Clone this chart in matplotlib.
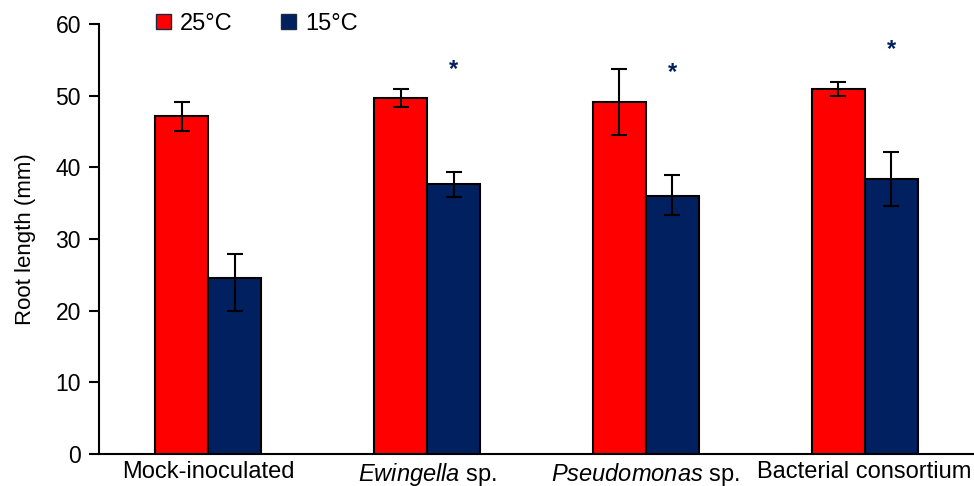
import matplotlib
matplotlib.use('Agg')
import matplotlib.pyplot as plt
import numpy as np

plt.rcParams['font.family'] = ['Liberation Sans', 'DejaVu Sans']
plt.rcParams['mathtext.fontset'] = 'custom'
plt.rcParams['mathtext.rm'] = 'Liberation Sans'
plt.rcParams['mathtext.it'] = 'Liberation Sans:italic'

categories = ['Mock-inoculated', r'$\it{Ewingella}$ sp.', r'$\it{Pseudomonas}$ sp.', 'Bacterial consortium']
warm = [47.2, 49.7, 49.1, 50.9]
warm_lo = [2.1, 1.3, 4.6, 0.9]
warm_hi = [1.9, 1.2, 4.6, 1.0]
cold = [24.5, 37.7, 36.0, 38.4]
cold_lo = [4.5, 1.8, 2.7, 3.8]
cold_hi = [3.4, 1.6, 2.9, 3.7]
star_y = [None, 53.6, 53.2, 56.4]

RED = '#FF0000'
NAVY = '#002060'

fig = plt.figure(figsize=(9.74, 4.86), dpi=100)
ax = fig.add_axes([99 / 974, 32 / 486, 875 / 974, 430 / 486])

x = np.arange(len(categories))
w = 0.242
ax.bar(x - w / 2, warm, w, color=RED, edgecolor='black', linewidth=1.5, label='25°C', zorder=2)
ax.bar(x + w / 2, cold, w, color=NAVY, edgecolor='black', linewidth=1.5, label='15°C', zorder=2)
ax.errorbar(x - w / 2, warm, yerr=[warm_lo, warm_hi], fmt='none', ecolor='black',
            elinewidth=1.5, capsize=5.8, capthick=1.5, zorder=3)
ax.errorbar(x + w / 2, cold, yerr=[cold_lo, cold_hi], fmt='none', ecolor='black',
            elinewidth=1.5, capsize=5.8, capthick=1.5, zorder=3)

# significance marks above the 15°C bars
for xi, sy in zip(x, star_y):
    if sy is not None:
        ax.text(xi + w / 2, sy, '*', color=NAVY, fontsize=17, fontweight='bold',
                ha='center', va='center')

ax.set_xlim(-0.5, len(categories) - 0.5)
ax.set_ylim(0, 60)
ax.set_yticks(np.arange(0, 61, 10))
ax.set_xticks(x)
ax.set_xticklabels(categories, fontsize=17)
ax.tick_params(axis='y', labelsize=16.5, length=7, width=1.5, direction='out', pad=6)
ax.tick_params(axis='x', length=0, pad=5)
ax.set_ylabel('Root length (mm)', fontsize=16, labelpad=14)

for s in ['top', 'right']:
    ax.spines[s].set_visible(False)
for s in ['left', 'bottom']:
    ax.spines[s].set_linewidth(1.5)

leg = ax.legend(loc='center left', bbox_to_anchor=(0.065, 1.0), ncol=2, frameon=False,
                fontsize=17, handlelength=0.63, handleheight=0.63, handletextpad=0.38,
                columnspacing=2.07, borderaxespad=0, borderpad=0)
for h in leg.legend_handles:
    h.set_edgecolor('#1a2a40')
    h.set_linewidth(1.0)

fig.savefig('out.png', dpi=100)
